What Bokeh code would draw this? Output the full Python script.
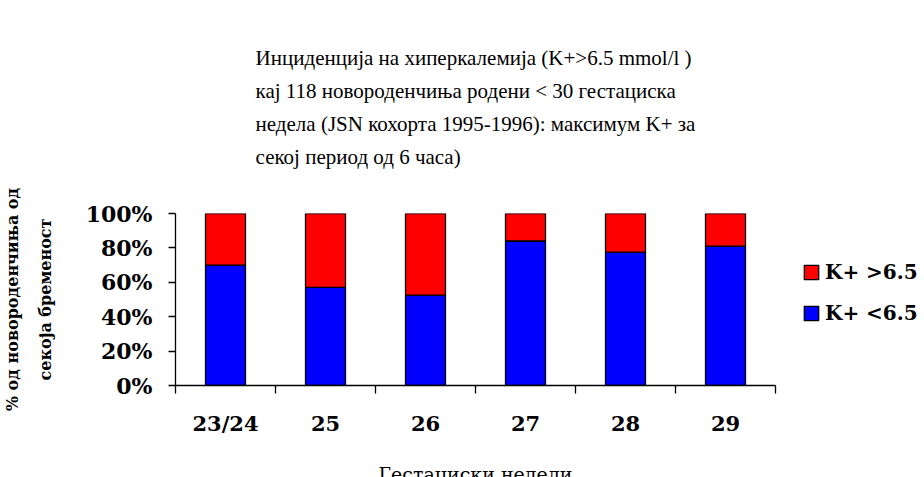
from bokeh.plotting import figure
from bokeh.models import (Range1d, LinearAxis, FixedTicker, ColumnDataSource,
                          NumeralTickFormatter, Legend, LegendItem, Title)
from bokeh.embed import file_html
from bokeh.resources import INLINE

categories = ["23/24", "25", "26", "27", "28", "29"]
below_65 = [0.70, 0.57, 0.525, 0.84, 0.775, 0.81]
above_65 = [round(1 - v, 4) for v in below_65]
y_ticks = [0, 0.2, 0.4, 0.6, 0.8, 1.0]
title_lines = [
    "Инциденција на хиперкалемија (K+>6.5 mmol/l )",
    "кај 118 новороденчиња родени < 30 гестациска",
    "недела (JSN кохорта 1995-1996): максимум K+ за",
    "секој период од 6 часа)",
]
y_label_lines = ["% од новороденчиња од", "секоја бременост"]
x_label = "Гестациски недели"
legend_labels = ["K+ >6.5", "K+ <6.5"]

FL, FT, FW, FH = 170, 210, 600, 172
W, H = 916, 469

n = len(categories)
centers = [i + 0.5 for i in range(n)]
bounds = list(range(n + 1))

p = figure(x_range=Range1d(0, n), y_range=Range1d(0, 1),
           frame_width=FW, frame_height=FH,
           min_border_left=FL, min_border_top=FT,
           min_border_right=W - FL - FW, min_border_bottom=H - FT - FH,
           x_axis_type=None, y_axis_type=None,
           output_backend="svg", toolbar_location=None)
p.outline_line_color = None
p.xgrid.visible = False
p.ygrid.visible = False
p.background_fill_color = "white"
p.border_fill_color = "white"

src = ColumnDataSource(dict(x=centers, cat=categories, lo=below_65, hi=above_65))
rs = p.vbar_stack(["lo", "hi"], x="x", width=0.4, source=src,
                  fill_color=["#0000ff", "#ff0000"], line_color="black", line_width=1.3)

yax = LinearAxis(ticker=FixedTicker(ticks=y_ticks), formatter=NumeralTickFormatter(format="0%"))
yax.axis_line_color = "black"
yax.axis_line_width = 1.3
yax.major_tick_in = 0
yax.major_tick_out = 7
yax.major_tick_line_width = 1.3
yax.minor_tick_line_color = None
yax.major_label_standoff = 16
yax.major_label_text_font = "DejaVu Serif"
yax.major_label_text_font_style = "bold"
yax.major_label_text_font_size = "22px"
yax.major_label_text_color = "black"
yax.axis_label = "\n".join(y_label_lines)
yax.axis_label_standoff = 28
yax.axis_label_text_font = "DejaVu Serif"
yax.axis_label_text_font_style = "bold"
yax.axis_label_text_font_size = "16px"
yax.axis_label_text_line_height = 1.7
yax.axis_label_text_color = "black"
p.add_layout(yax, "left")

xax = LinearAxis(ticker=FixedTicker(ticks=centers, minor_ticks=bounds),
                 major_label_overrides={c: lab for c, lab in zip(centers, categories)})
xax.axis_line_color = "black"
xax.axis_line_width = 1.3
xax.major_tick_line_color = None
xax.major_tick_in = 0
xax.major_tick_out = 0
xax.minor_tick_line_color = "black"
xax.minor_tick_line_width = 1.3
xax.minor_tick_in = 0
xax.minor_tick_out = 8
xax.major_label_standoff = 17
xax.major_label_text_font = "DejaVu Serif"
xax.major_label_text_font_style = "bold"
xax.major_label_text_font_size = "21px"
xax.major_label_text_color = "black"
xax.axis_label = x_label
xax.axis_label_standoff = 24
xax.axis_label_text_font = "DejaVu Serif"
xax.axis_label_text_font_style = "normal"
xax.axis_label_text_font_size = "19px"
xax.axis_label_text_color = "black"
p.add_layout(xax, "below")

title = Title(text="\n".join(title_lines), align="center", offset=-80,
              standoff=88, text_font="Liberation Serif", text_font_style="normal",
              text_font_size="21px", text_line_height=1.38, text_color="black")
p.add_layout(title, "above")

legend = Legend(items=[LegendItem(label=legend_labels[0], renderers=[rs[1]]),
                       LegendItem(label=legend_labels[1], renderers=[rs[0]])],
                location=(27, 60), orientation="vertical",
                glyph_width=18, glyph_height=18, label_height=18, spacing=17,
                label_standoff=5, padding=0, margin=0,
                border_line_color=None, background_fill_alpha=0,
                label_text_font="DejaVu Serif", label_text_font_style="bold",
                label_text_font_size="20px", label_text_color="black")
p.add_layout(legend, "right")

open("out.html", "w").write(file_html(p, INLINE))
